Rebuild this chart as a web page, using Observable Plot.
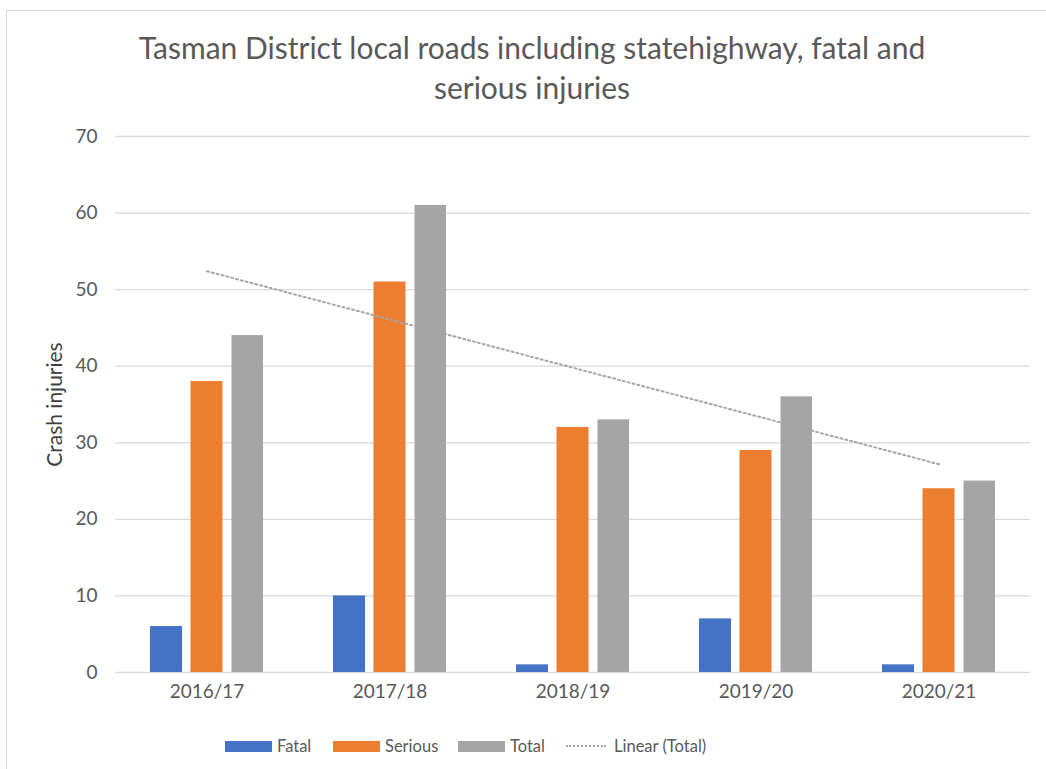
<!DOCTYPE html>
<html>
<head>
<meta charset="utf-8">
<script src="https://cdn.jsdelivr.net/npm/d3@7"></script>
<script src="https://cdn.jsdelivr.net/npm/@observablehq/plot@0.6"></script>
<style>
  html, body { margin: 0; padding: 0; background: #fff; }
  #wrap { position: relative; width: 1046px; height: 769px; overflow: hidden; font-family: Lato, "Open Sans", sans-serif; }
  #frame { position: absolute; left: 6px; top: 10px; width: 1100px; height: 800px; border: 1px solid #d9d9d9; box-sizing: border-box; }
  #title { position: absolute; left: 0; width: 1064px; top: 27px; text-align: center; font-size: 30px; line-height: 40px; color: #595959; white-space: nowrap; }
  #chart { position: absolute; left: 0; top: 0; }
  #legend { position: absolute; left: 0; top: 735px; width: 1046px; height: 22px; font-size: 16.5px; color: #595959; }
  .item { position: absolute; top: 0; height: 22px; display: flex; align-items: center; white-space: nowrap; }
  .sw { display: inline-block; width: 47px; height: 11px; margin-right: 5px; }
  .dots { display: inline-block; width: 40px; border-top: 2px dotted #A5A5A5; margin-right: 8px; }
</style>
</head>
<body>
<div id="wrap">
  <div id="frame"></div>
  <div id="chart"></div>
  <div id="title">Tasman District local roads including statehighway, fatal and<br>serious injuries</div>
  <div id="legend"></div>
</div>
<script>
const categories = ["2016/17", "2017/18", "2018/19", "2019/20", "2020/21"];
const fatal = [6, 10, 1, 7, 1];
const serious = [38, 51, 32, 29, 24];
const total = [44, 61, 33, 36, 25];
const trendCategories = ["2016/17", "2020/21"];
const trendTotal = [52.4, 27.2];
const yTicks = [0, 10, 20, 30, 40, 50, 60, 70];
const seriesNames = ["Fatal", "Serious", "Total"];
const trendName = "Linear (Total)";
const colors = ["#4472C4", "#ED7D31", "#A5A5A5"];

const rows = categories.map((c, i) => ({category: c, fatal: fatal[i], serious: serious[i], total: total[i]}));
const trendRows = trendCategories.map((c, i) => ({category: c, value: trendTotal[i]}));

const font = "Lato, 'Open Sans', sans-serif";
const chart = Plot.plot({
  width: 1046,
  height: 769,
  marginTop: 136,
  marginBottom: 97,
  marginLeft: 115,
  marginRight: 16,
  style: {fontFamily: font, fontSize: "19px", color: "#595959", background: "transparent", overflow: "visible"},
  x: {domain: categories, padding: 0, label: null},
  y: {domain: [0, 70], label: null},
  marks: [
    Plot.ruleY(yTicks, {stroke: "#d9d9d9", strokeWidth: 1.3}),
    Plot.barY(rows, {x: "category", y: "fatal", fill: colors[0], insetLeft: 35, insetRight: 116}),
    Plot.barY(rows, {x: "category", y: "serious", fill: colors[1], insetLeft: 75.5, insetRight: 75.5}),
    Plot.barY(rows, {x: "category", y: "total", fill: colors[2], insetLeft: 116.5, insetRight: 35}),
    Plot.line(trendRows, {x: "category", y: "value", stroke: "#A5A5A5", strokeWidth: 2, strokeDasharray: "2,3"}),
    Plot.axisY({ticks: yTicks, tickSize: 0, tickPadding: 18, label: null, fontSize: 19}),
    Plot.axisX({tickSize: 0, tickPadding: 12, label: null, fontSize: 19}),
    Plot.text(["Crash injuries"], {frameAnchor: "left", textAnchor: "middle", dx: -60, rotate: -90, fontSize: 21, fill: "#404040"})
  ]
});
document.getElementById("chart").appendChild(chart);

const legend = document.getElementById("legend");
const legendLeft = [225, 333, 458];
seriesNames.forEach((n, i) => {
  const it = document.createElement("div");
  it.className = "item";
  it.style.left = legendLeft[i] + "px";
  it.innerHTML = `<span class="sw" style="background:${colors[i]}"></span><span>${n}</span>`;
  legend.appendChild(it);
});
const lt = document.createElement("div");
lt.className = "item";
lt.style.left = "566px";
lt.innerHTML = `<span class="dots"></span><span>${trendName}</span>`;
legend.appendChild(lt);
</script>
</body>
</html>
